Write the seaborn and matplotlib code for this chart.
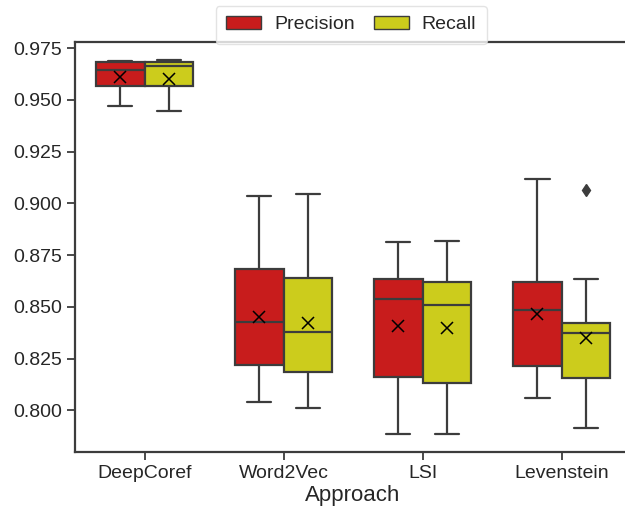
import matplotlib
matplotlib.use("Agg")
import matplotlib.pyplot as plt
import seaborn as sns
import pandas as pd

approaches = ["DeepCoref", "Word2Vec", "LSI", "Levenstein"]
metrics = ["Precision", "Recall"]

deepcoref_precision = [0.9472, 0.9480, 0.9530, 0.9569, 0.9580, 0.9600, 0.9644, 0.9656, 0.9658, 0.9682, 0.9684, 0.9686, 0.9689]
deepcoref_recall = [0.9447, 0.9450, 0.9465, 0.9569, 0.9572, 0.9580, 0.9666, 0.9668, 0.9670, 0.9682, 0.9682, 0.9682, 0.9693]
word2vec_precision = [0.8041, 0.8091, 0.8141, 0.8219, 0.8289, 0.8349, 0.8427, 0.8507, 0.8547, 0.8681, 0.8741, 0.8806, 0.9037]
word2vec_recall = [0.8011, 0.8061, 0.8111, 0.8183, 0.8253, 0.8313, 0.8380, 0.8480, 0.8510, 0.8638, 0.8708, 0.8768, 0.9044]
lsi_precision = [0.7886, 0.7986, 0.8036, 0.8159, 0.8309, 0.8409, 0.8536, 0.8566, 0.8606, 0.8633, 0.8663, 0.8690, 0.8812]
lsi_recall = [0.7886, 0.7986, 0.8036, 0.8133, 0.8283, 0.8403, 0.8509, 0.8549, 0.8579, 0.8621, 0.8661, 0.8682, 0.8820]
levenstein_precision = [0.8059, 0.8109, 0.8159, 0.8212, 0.8322, 0.8402, 0.8483, 0.8538, 0.8558, 0.8620, 0.8690, 0.8762, 0.9118]
levenstein_recall = [0.7913, 0.7993, 0.8083, 0.8156, 0.8256, 0.8306, 0.8375, 0.8400, 0.8410, 0.8423, 0.8511, 0.8633, 0.9065]

series = {
    ("DeepCoref", "Precision"): deepcoref_precision,
    ("DeepCoref", "Recall"): deepcoref_recall,
    ("Word2Vec", "Precision"): word2vec_precision,
    ("Word2Vec", "Recall"): word2vec_recall,
    ("LSI", "Precision"): lsi_precision,
    ("LSI", "Recall"): lsi_recall,
    ("Levenstein", "Precision"): levenstein_precision,
    ("Levenstein", "Recall"): levenstein_recall,
}
rows = []
for (a, m), vals in series.items():
    for v in vals:
        rows.append({"Approach": a, "Metric": m, "Score": v})
df = pd.DataFrame(rows)

sns.set_style("ticks")
plt.rcParams["font.family"] = ["Liberation Sans", "DejaVu Sans"]

fig = plt.figure(figsize=(6.25, 5.15), dpi=100)
ax = fig.add_axes([0.12, 0.1223, 0.89, 0.7961])

line_c = "#3c3c3c"
sns.boxplot(
    data=df, x="Approach", y="Score", hue="Metric",
    order=approaches, hue_order=metrics,
    palette=["#c81c1c", "#cccc1c"], saturation=1,
    width=0.7, linewidth=1.6, linecolor=line_c,
    flierprops=dict(marker="d", markerfacecolor=line_c, markeredgecolor=line_c, markersize=6),
    showmeans=True,
    meanprops=dict(marker="x", markeredgecolor="black", markerfacecolor="black", markersize=9, markeredgewidth=1.1),
    ax=ax,
)

ax.set_ylim(0.7798, 0.978)
ax.set_xlim(-0.5, 3.5)
ax.set_yticks([0.800, 0.825, 0.850, 0.875, 0.900, 0.925, 0.950, 0.975])
ax.set_yticklabels(["0.800", "0.825", "0.850", "0.875", "0.900", "0.925", "0.950", "0.975"])
ax.tick_params(labelsize=14, width=1.3, length=6, color=line_c)
ax.set_xlabel("Approach", fontsize=16, labelpad=2)
ax.set_ylabel("")
for s in ax.spines.values():
    s.set_linewidth(1.6)
    s.set_color(line_c)

leg = ax.legend(loc="lower center", bbox_to_anchor=(0.4965, 0.995), ncol=2, fontsize=14,
                frameon=True, borderaxespad=0, handlelength=1.8, handleheight=0.6,
                handletextpad=0.65, columnspacing=1.0, borderpad=0.55)
leg.get_frame().set_edgecolor("#dddddd")
for h in leg.legend_handles:
    h.set_edgecolor(line_c)
    h.set_linewidth(1.0)

fig.savefig("out.png", dpi=100)
